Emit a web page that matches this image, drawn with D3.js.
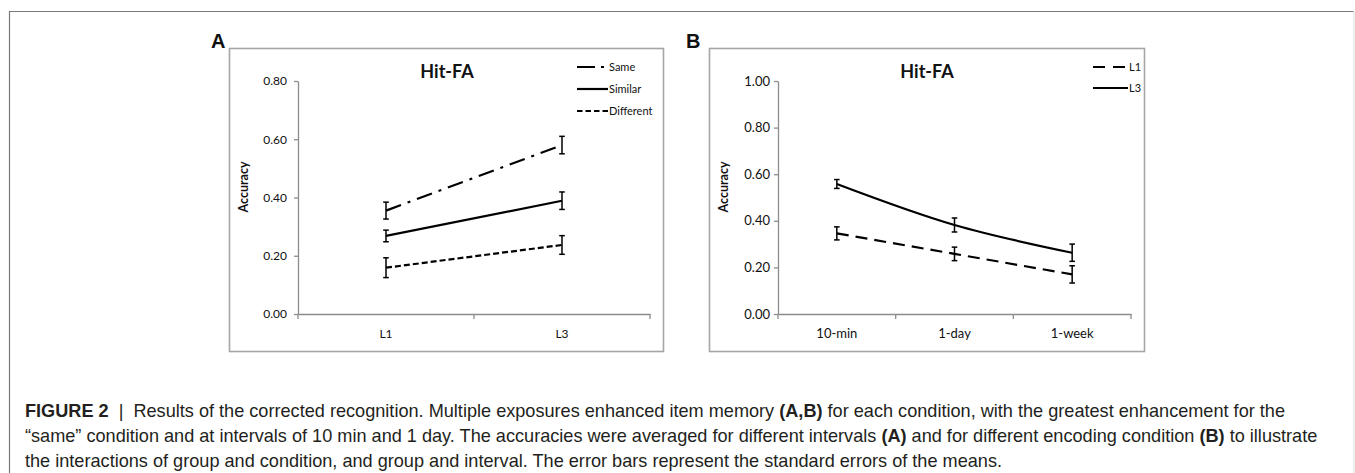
<!DOCTYPE html>
<html>
<head>
<meta charset="utf-8">
<script src="https://cdn.jsdelivr.net/npm/d3@7"></script>
<style>
  html, body { margin: 0; padding: 0; background: #fff; }
  svg { display: block; }
</style>
</head>
<body>
<svg id="chart" width="1355" height="473"></svg>
<script>
// ---------- DATA ----------
const panelACategories = ["L1", "L3"];
const panelASeries = ["Same", "Similar", "Different"];
const sameMeans = [0.355, 0.580];
const sameErrors = [0.029, 0.030];
const similarMeans = [0.268, 0.389];
const similarErrors = [0.020, 0.030];
const differentMeans = [0.159, 0.237];
const differentErrors = [0.034, 0.032];
const panelAYTicks = [0.0, 0.2, 0.4, 0.6, 0.8];

const panelBCategories = ["10-min", "1-day", "1-week"];
const panelBSeries = ["L1", "L3"];
const l1Means = [0.346, 0.258, 0.170];
const l1Errors = [0.028, 0.029, 0.037];
const l3Means = [0.558, 0.382, 0.263];
const l3Errors = [0.019, 0.030, 0.037];
const panelBYTicks = [0.0, 0.2, 0.4, 0.6, 0.8, 1.0];

const chartTitle = "Hit-FA";
const yAxisTitle = "Accuracy";
const captionLines = [
  [["FIGURE 2", true], ["  |  ", false], ["Results of the corrected recognition. Multiple exposures enhanced item memory ", false], ["(A,B)", true], [" for each condition, with the greatest enhancement for the", false]],
  [["\u201Csame\u201D condition and at intervals of 10 min and 1 day. The accuracies were averaged for different intervals ", false], ["(A)", true], [" and for different encoding condition ", false], ["(B)", true], [" to illustrate", false]],
  [["the interactions of group and condition, and group and interval. The error bars represent the standard errors of the means.", false]]
];

// ---------- DRAW ----------
const svg = d3.select("#chart");
const FONT = "Lato, 'Open Sans', sans-serif";

// outer figure frame
svg.append("path")
  .attr("d", "M9.5,473 L9.5,11.5 L1354,11.5")
  .attr("fill", "none").attr("stroke", "#7a7a7a").attr("stroke-width", 1.2);
svg.append("line").attr("x1", 1354).attr("x2", 1354).attr("y1", 11).attr("y2", 473)
  .attr("stroke", "#e2e2e2").attr("stroke-width", 1.2);

function drawPanel(cfg) {
  const g = svg.append("g");
  // panel box
  g.append("rect")
    .attr("x", cfg.box[0] + 0.5).attr("y", cfg.box[1] + 0.5)
    .attr("width", cfg.box[2] - cfg.box[0]).attr("height", cfg.box[3] - cfg.box[1])
    .attr("fill", "#fff").attr("stroke", "#a6a6a6").attr("stroke-width", 1.6);
  // panel letter
  svg.append("text").attr("x", cfg.letterX).attr("y", 48)
    .attr("font-family", "'Liberation Sans', Arial, sans-serif")
    .attr("font-weight", "bold").attr("font-size", 20).attr("fill", "#111")
    .text(cfg.letter);

  const x = d3.scaleBand().domain(cfg.categories).range([cfg.plotLeft, cfg.plotRight]);
  const y = d3.scaleLinear().domain([0, cfg.yMax]).range([314, 81]);

  // y axis
  const yAxis = g.append("g").attr("transform", `translate(${cfg.plotLeft},0)`)
    .call(d3.axisLeft(y).tickValues(cfg.yTicks).tickFormat(d3.format(".2f"))
      .tickSize(4).tickSizeOuter(0).tickPadding(cfg.yPad));
  yAxis.select(".domain").attr("stroke", "#8c8c8c").attr("stroke-width", 1.3);
  yAxis.selectAll(".tick line").attr("stroke", "#8c8c8c").attr("stroke-width", 1.3);
  yAxis.selectAll(".tick text").attr("font-family", FONT).attr("font-size", cfg.tickFont).attr("fill", "#111");

  // x axis
  const xAxis = g.append("g").attr("transform", `translate(0,${y(0)})`)
    .call(d3.axisBottom(x).tickSize(0).tickPadding(15));
  xAxis.select(".domain").attr("stroke", "#8c8c8c").attr("stroke-width", 1.3);
  xAxis.selectAll(".tick text").attr("font-family", FONT).attr("font-size", cfg.tickFont).attr("fill", "#111");
  const bounds = [x.range()[0]].concat(cfg.categories.map(c => x(c) + x.bandwidth()));
  g.selectAll(".xb").data(bounds).join("line")
    .attr("x1", d => d).attr("x2", d => d)
    .attr("y1", y(0)).attr("y2", y(0) + 5)
    .attr("stroke", "#8c8c8c").attr("stroke-width", 1.3);

  // titles
  g.append("text").attr("x", cfg.titleX).attr("y", 78).attr("text-anchor", "middle")
    .attr("font-family", FONT).attr("font-weight", "bold").attr("font-size", 18).attr("fill", "#111")
    .text(chartTitle);
  g.append("text").attr("transform", `translate(${cfg.yTitleX},187) rotate(-90)`)
    .attr("text-anchor", "middle").attr("dy", "0.35em")
    .attr("font-family", FONT).attr("font-weight", "bold").attr("font-size", 12.5).attr("fill", "#111")
    .text(yAxisTitle);

  const cx = c => x(c) + x.bandwidth() / 2;
  cfg.series.forEach(s => {
    const pts = cfg.categories.map((c, i) => ({ c, m: s.means[i], e: s.errors[i] }));
    const line = d3.line().x(d => cx(d.c)).y(d => y(d.m));
    if (s.curve) line.curve(s.curve);
    g.append("path").datum(pts).attr("d", line)
      .attr("fill", "none").attr("stroke", "#000").attr("stroke-width", 2.2)
      .attr("stroke-dasharray", s.dash || null);
    // error bars
    const eb = g.selectAll(null).data(pts).join("g");
    eb.append("line").attr("x1", d => cx(d.c)).attr("x2", d => cx(d.c))
      .attr("y1", d => y(d.m - d.e)).attr("y2", d => y(d.m + d.e))
      .attr("stroke", "#000").attr("stroke-width", 1.5);
    [1, -1].forEach(sg => {
      eb.append("line").attr("x1", d => cx(d.c) - 2.8).attr("x2", d => cx(d.c) + 2.8)
        .attr("y1", d => y(d.m + sg * d.e)).attr("y2", d => y(d.m + sg * d.e))
        .attr("stroke", "#000").attr("stroke-width", 1.5);
    });
  });

  // legend
  cfg.series.forEach((s, i) => {
    const ly = cfg.legendY[i];
    g.append("line").attr("x1", cfg.legendX[0]).attr("x2", cfg.legendX[1])
      .attr("y1", ly).attr("y2", ly)
      .attr("stroke", "#000").attr("stroke-width", 2.2)
      .attr("stroke-dasharray", s.legendDash || null);
    g.append("text").attr("x", cfg.legendX[1] + 1).attr("y", ly).attr("dy", "0.35em")
      .attr("font-family", FONT).attr("font-size", 11).attr("fill", "#111")
      .text(s.name);
  });
}

drawPanel({
  letter: "A", letterX: 211,
  box: [229, 48, 663, 351],
  categories: panelACategories,
  plotLeft: 298, plotRight: 650, yMax: 0.8, yTicks: panelAYTicks,
  yPad: 7, tickFont: 12,
  titleX: 447, yTitleX: 244,
  legendX: [577, 608], legendY: [67, 89, 111],
  series: [
    { name: panelASeries[0], means: sameMeans, errors: sameErrors, dash: "16,7,3,7", legendDash: "18,6,3,10" },
    { name: panelASeries[1], means: similarMeans, errors: similarErrors },
    { name: panelASeries[2], means: differentMeans, errors: differentErrors, dash: "6,3", legendDash: "5.5,3" }
  ]
});

drawPanel({
  letter: "B", letterX: 686,
  box: [709, 48, 1144, 351],
  categories: panelBCategories,
  plotLeft: 778, plotRight: 1131, yMax: 1.0, yTicks: panelBYTicks,
  yPad: 4, tickFont: 13,
  titleX: 927, yTitleX: 724,
  legendX: [1093, 1128], legendY: [67, 88],
  series: [
    { name: panelBSeries[0], means: l1Means, errors: l1Errors, dash: "12,7", legendDash: "12,8" },
    { name: panelBSeries[1], means: l3Means, errors: l3Errors, curve: d3.curveCatmullRom.alpha(0.5) }
  ]
});

// caption
const capG = svg.append("g");
const baselines = [417, 442, 467];
const capTexts = captionLines.map((parts, i) => {
  const t = capG.append("text").attr("x", 25).attr("y", baselines[i])
    .attr("font-family", "'Liberation Sans', Arial, sans-serif")
    .attr("font-size", 17).attr("fill", "#231f20")
    .attr("xml:space", "preserve").style("white-space", "pre");
  parts.forEach(([txt, bold]) => {
    t.append("tspan").attr("font-weight", bold ? "bold" : "normal").text(txt);
  });
  return t;
});
// fit font size so the first line spans the same width as in the figure
const w0 = capTexts[0].node().getComputedTextLength();
const fs = 17 * 1261 / w0;
capTexts.forEach(t => t.attr("font-size", fs));
</script>
</body>
</html>
